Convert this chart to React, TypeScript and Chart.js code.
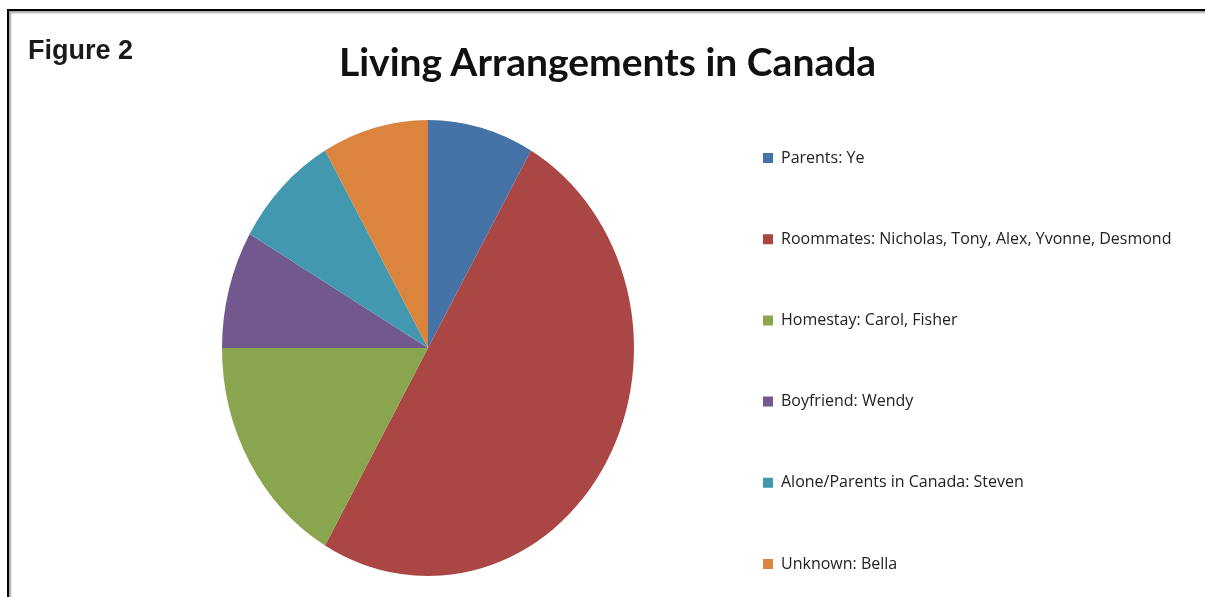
import React, { useEffect, useRef } from "react";
import { Chart, registerables } from "chart.js";

Chart.register(...registerables);

// ---- data ----
const categories = [
  "Parents: Ye",
  "Roommates: Nicholas, Tony, Alex, Yvonne, Desmond",
  "Homestay: Carol, Fisher",
  "Boyfriend: Wendy",
  "Alone/Parents in Canada: Steven",
  "Unknown: Bella",
];
const counts = [1, 6, 2, 1, 1, 1];
const sliceColors = ["#4572A7", "#AA4643", "#89A54E", "#71588F", "#4198AF", "#DB843D"];
const chartTitle = "Living Arrangements in Canada";
const figureLabel = "Figure 2";

// ---- layout / style ----
const CANVAS_W = 1205;
const CANVAS_H = 660;
const PIE_RADIUS = 228; // vertical radius
const X_SQUASH = 206 / 228; // the original pie is a slightly tall ellipse
const LEGEND_FONT_SIZE = 16;
const LEGEND_FONT = "'Open Sans', sans-serif";
const LEGEND_BOX = 10;
const LEGEND_PAD = 65.2;
const CHART_LEFT = 158.2;
const CHART_RIGHT = 697.8;

const ellipsePlugin = {
  id: "ellipse",
  beforeDatasetsDraw(chart: any) {
    const arc = chart.getDatasetMeta(0).data[0];
    if (!arc) return;
    const { x, y } = arc;
    const ctx = chart.ctx;
    ctx.save();
    ctx.translate(x, y);
    ctx.scale(X_SQUASH, 1);
    ctx.translate(-x, -y);
  },
  afterDatasetsDraw(chart: any) {
    chart.ctx.restore();
  },
};

export default function App() {
  const canvasRef = useRef<HTMLCanvasElement | null>(null);

  useEffect(() => {
    document.body.style.margin = "0";
    const canvas = canvasRef.current;
    if (!canvas) return;
    const mctx = canvas.getContext("2d");
    let maxText = 390;
    if (mctx) {
      mctx.font = `${LEGEND_FONT_SIZE}px ${LEGEND_FONT}`;
      maxText = Math.max(...categories.map((c) => mctx.measureText(c).width));
    }
    const legendWidth = LEGEND_PAD + LEGEND_BOX + LEGEND_FONT_SIZE / 2 + maxText + 10;
    const rightPad = CANVAS_W - CHART_RIGHT - legendWidth;

    const chart = new Chart(canvas, {
      type: "pie",
      data: {
        labels: categories,
        datasets: [
          {
            data: counts,
            backgroundColor: sliceColors,
            borderWidth: 0,
            radius: PIE_RADIUS,
          } as any,
        ],
      },
      options: {
        responsive: false,
        animation: false,
        layout: {
          padding: { left: CHART_LEFT, right: rightPad, top: 40, bottom: 4 },
        },
        plugins: {
          legend: {
            position: "right",
            align: "start",
            title: {
              display: true,
              text: " ",
              font: { size: 10, lineHeight: 1 },
              padding: { top: 0, bottom: 34.8 },
            },
            labels: {
              boxWidth: LEGEND_BOX,
              boxHeight: LEGEND_BOX,
              padding: LEGEND_PAD,
              color: "#222222",
              font: { family: LEGEND_FONT, size: LEGEND_FONT_SIZE },
            },
          },
          tooltip: { enabled: false },
        },
      },
      plugins: [ellipsePlugin],
    });
    return () => chart.destroy();
  }, []);

  return (
    <div
      style={{
        position: "fixed",
        left: 0,
        top: 0,
        width: 1205,
        height: 597,
        overflow: "hidden",
        background: "#ffffff",
      }}
    >
      <div
        style={{
          position: "absolute",
          left: 7,
          top: 9,
          width: 1300,
          height: 700,
          borderTop: "2px solid #000",
          borderLeft: "2px solid #000",
          boxShadow: "inset 2px 2px 2px rgba(0,0,0,0.35)",
        }}
      />
      <canvas
        ref={canvasRef}
        width={CANVAS_W}
        height={CANVAS_H}
        style={{ position: "absolute", left: 0, top: 0, width: CANVAS_W, height: CANVAS_H }}
      />
      <div
        style={{
          position: "absolute",
          left: 28,
          top: 37,
          fontFamily: "'Liberation Sans', Arial, sans-serif",
          fontWeight: "bold",
          fontSize: 27,
          lineHeight: "27px",
          color: "#1a1a1a",
          whiteSpace: "nowrap",
        }}
      >
        {figureLabel}
      </div>
      <div
        style={{
          position: "absolute",
          left: 0,
          width: 1215,
          top: 41,
          textAlign: "center",
          fontFamily: "Lato, sans-serif",
          fontWeight: "bold",
          fontSize: 39,
          lineHeight: "40px",
          color: "#111111",
          whiteSpace: "nowrap",
        }}
      >
        {chartTitle}
      </div>
    </div>
  );
}
